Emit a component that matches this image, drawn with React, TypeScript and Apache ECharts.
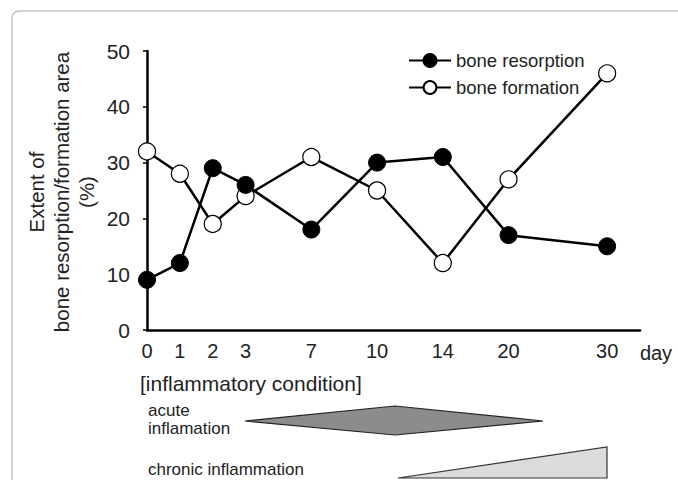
import React, { useEffect, useRef } from "react";
import * as echarts from "echarts";

const days = ["0", "1", "2", "3", "7", "10", "14", "20", "30"];
// horizontal slot of each day on the (non-linear) time axis
const dayPositions = [0, 1, 2, 3, 5, 7, 9, 11, 14];
const boneResorption = [9, 12, 29, 26, 18, 30, 31, 17, 15];
const boneFormation = [32, 28, 19, 24, 31, 25, 12, 27, 46];
const yTicks = [0, 10, 20, 30, 40, 50];

const FONT = "Liberation Sans, Arial, Helvetica, sans-serif";

export default function App() {
  const ref = useRef<HTMLDivElement>(null);
  useEffect(() => {
    if (!ref.current) return;
    const chart = echarts.init(ref.current, null, { renderer: "svg" });
    const toPairs = (vals: number[]) => vals.map((v, i) => [dayPositions[i], v]);
    chart.setOption({
      animation: false,
      backgroundColor: "#fff",
      textStyle: { fontFamily: FONT },
      grid: { left: 147, top: 51, right: 38, bottom: 150, containLabel: false },
      legend: {
        orient: "vertical",
        left: 403,
        top: 46,
        itemWidth: 42,
        itemHeight: 16,
        itemGap: 8,
        data: ["bone resorption", "bone formation"],
        textStyle: { fontSize: 18.5, color: "#222", fontFamily: FONT, padding: [0, 0, 0, 0] },
      },
      xAxis: {
        type: "value",
        min: 0,
        max: 15,
        interval: 1,
        splitLine: { show: false },
        axisLine: { show: true, onZero: false, lineStyle: { color: "#000", width: 2.5 } },
        axisTick: { show: false },
        axisLabel: {
          customValues: dayPositions,
          formatter: (v: number) => {
            const i = dayPositions.indexOf(v);
            return i >= 0 ? days[i] : "";
          },
          fontSize: 20,
          color: "#222",
          margin: 11,
          fontFamily: FONT,
        },
      },
      yAxis: {
        type: "value",
        min: yTicks[0],
        max: yTicks[yTicks.length - 1],
        interval: 10,
        splitLine: { show: false },
        axisLine: { show: true, lineStyle: { color: "#000", width: 2.5 } },
        axisTick: { show: true, length: 4, lineStyle: { color: "#000", width: 1.5 } },
        axisLabel: { fontSize: 21, color: "#222", margin: 17, fontFamily: FONT },
      },
      series: [
        {
          name: "bone formation",
          type: "line",
          data: toPairs(boneFormation),
          symbol: "circle",
          symbolSize: 17,
          z: 2,
          lineStyle: { color: "#000", width: 2.5 },
          itemStyle: { color: "#fff", borderColor: "#000", borderWidth: 1.2 },
        },
        {
          name: "bone resorption",
          type: "line",
          data: toPairs(boneResorption),
          symbol: "circle",
          symbolSize: 17,
          z: 3,
          lineStyle: { color: "#000", width: 2.5 },
          itemStyle: { color: "#000", borderColor: "#000", borderWidth: 1 },
        },
      ],
      graphic: [
        {
          type: "rect",
          shape: { x: 12, y: 11, width: 720, height: 520, r: 7 },
          style: { fill: "none", stroke: "#c4c4c4", lineWidth: 1.5 },
          z: -1,
        },
        {
          type: "text",
          x: 61,
          y: 192,
          rotation: Math.PI / 2,
          style: {
            text: "Extent of\nbone resorption/formation area\n(%)",
            fontSize: 20.5,
            lineHeight: 25,
            fill: "#222",
            fontFamily: FONT,
            align: "center",
            verticalAlign: "middle",
          },
        },
        {
          type: "text",
          x: 656,
          y: 353,
          style: { text: "day", fontSize: 20, fill: "#222", fontFamily: FONT, align: "center", verticalAlign: "middle" },
        },
        {
          type: "text",
          x: 140,
          y: 383,
          style: { text: "[inflammatory condition]", fontSize: 21, fill: "#222", fontFamily: FONT, align: "left", verticalAlign: "middle" },
        },
        {
          type: "text",
          x: 148,
          y: 419,
          style: { text: "acute\ninflamation", fontSize: 17, lineHeight: 18, fill: "#222", fontFamily: FONT, align: "left", verticalAlign: "middle" },
        },
        {
          type: "polygon",
          shape: { points: [[245, 421], [395, 406], [543, 421], [395, 435]] },
          style: { fill: "#8c8c8c", stroke: "#222", lineWidth: 1.2 },
        },
        {
          type: "text",
          x: 148,
          y: 469,
          style: { text: "chronic inflammation", fontSize: 17, fill: "#222", fontFamily: FONT, align: "left", verticalAlign: "middle" },
        },
        {
          type: "polygon",
          shape: { points: [[398, 478], [607, 447], [607, 478]] },
          style: { fill: "#dcdcdc", stroke: "#333", lineWidth: 1.2 },
        },
      ],
    });
    return () => chart.dispose();
  }, []);
  return <div ref={ref} style={{ position: "fixed", left: 0, top: 0, width: 678, height: 480 }} />;
}
